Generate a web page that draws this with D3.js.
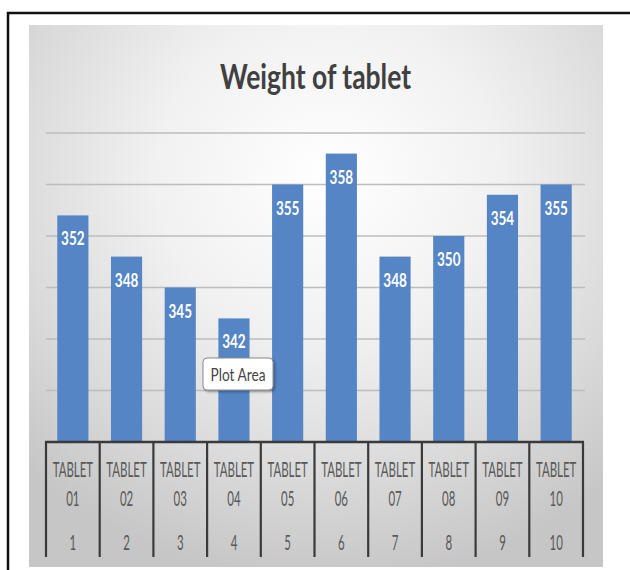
<!DOCTYPE html>
<html>
<head>
<meta charset="utf-8">
<script src="https://cdn.jsdelivr.net/npm/d3@7"></script>
<style>
  html, body { margin: 0; padding: 0; background: #ffffff; }
  svg { display: block; }
</style>
</head>
<body>
<svg id="chart" width="630" height="570"></svg>
<script>
// Data
const categories = ["TABLET 01", "TABLET 02", "TABLET 03", "TABLET 04", "TABLET 05",
                    "TABLET 06", "TABLET 07", "TABLET 08", "TABLET 09", "TABLET 10"];
const indexLabels = ["1", "2", "3", "4", "5", "6", "7", "8", "9", "10"];
const weights = [352, 348, 345, 342, 355, 358, 348, 350, 354, 355];
const gridValues = [335, 340, 345, 350, 355, 360];
const chartTitle = "Weight of tablet";

const svg = d3.select("#chart");
const font = "Lato, 'Open Sans', 'Liberation Sans', sans-serif";

// Defs: background gradient and tooltip shadow
const defs = svg.append("defs");
const bg = defs.append("radialGradient").attr("id", "bgGrad")
  .attr("cx", "52%").attr("cy", "28%").attr("r", "75%");
bg.append("stop").attr("offset", "0%").attr("stop-color", "#ffffff");
bg.append("stop").attr("offset", "40%").attr("stop-color", "#f1f1f1");
bg.append("stop").attr("offset", "75%").attr("stop-color", "#d9d9d9");
bg.append("stop").attr("offset", "100%").attr("stop-color", "#c6c6c6");
const shadow = defs.append("filter").attr("id", "tipShadow")
  .attr("x", "-20%").attr("y", "-20%").attr("width", "150%").attr("height", "160%");
shadow.append("feDropShadow").attr("dx", 1.5).attr("dy", 1.5)
  .attr("stdDeviation", 1.2).attr("flood-color", "#000").attr("flood-opacity", 0.35);

// Outer frame (left and top edges)
svg.append("path")
  .attr("d", "M8,570 V13 H630")
  .attr("fill", "none").attr("stroke", "#111").attr("stroke-width", 2.5);

// Chart area
svg.append("rect")
  .attr("x", 29).attr("y", 25).attr("width", 574).attr("height", 542)
  .attr("fill", "url(#bgGrad)");

// Scales
const x = d3.scaleBand().domain(categories).range([46, 583]).paddingInner(0.42).paddingOuter(0.21);
const y = d3.scaleLinear().domain([330, 360]).range([442, 133]);
const cellX = d3.scaleBand().domain(categories).range([46, 583]);

// Horizontal gridlines
svg.append("g").selectAll("line").data(gridValues).join("line")
  .attr("x1", 46).attr("x2", 585)
  .attr("y1", d => y(d)).attr("y2", d => y(d))
  .attr("stroke", "#bdbdbd").attr("stroke-width", 1.3);

// Tall, narrow lettering: text drawn at origin, then placed and stretched
function tallText(parent, cx, baseY, sx, sy) {
  return parent.append("g")
    .attr("transform", `translate(${cx},${baseY}) scale(${sx},${sy})`)
    .append("text")
    .attr("text-anchor", "middle");
}

// Title
svg.append("text")
  .attr("x", 315.5).attr("y", 89)
  .attr("text-anchor", "middle")
  .attr("font-family", font).attr("font-weight", "bold").attr("font-size", 34)
  .attr("fill", "#404040")
  .attr("textLength", 191).attr("lengthAdjust", "spacingAndGlyphs")
  .text(chartTitle);

// Bars
svg.append("g").selectAll("rect").data(weights).join("rect")
  .attr("x", (d, i) => x(categories[i]))
  .attr("y", d => y(d))
  .attr("width", x.bandwidth())
  .attr("height", d => y.range()[0] - y(d))
  .attr("fill", "#5585c5");

// Value labels inside the bars
const labelLayer = svg.append("g");
weights.forEach((v, i) => {
  tallText(labelLayer, x(categories[i]) + x.bandwidth() / 2, y(v) + 30, 1, 1.4)
    .attr("font-family", font).attr("font-weight", "bold").attr("font-size", 13.5)
    .attr("fill", "#ffffff")
    .text(v);
});

// Category table under the axis
const table = svg.append("g");
table.append("line")
  .attr("x1", 45).attr("x2", 584).attr("y1", 442).attr("y2", 442)
  .attr("stroke", "#3a3a3a").attr("stroke-width", 2.5);
const bounds = categories.map(c => cellX(c)).concat([cellX.range()[1]]);
table.selectAll("line.v").data(bounds).join("line").attr("class", "v")
  .attr("x1", d => d).attr("x2", d => d).attr("y1", 442).attr("y2", 557)
  .attr("stroke", "#3a3a3a").attr("stroke-width", 2.2);

function cellRow(rowY, getText) {
  categories.forEach((c, i) => {
    tallText(table, cellX(c) + cellX.bandwidth() / 2, rowY, 0.79, 1.4)
      .attr("font-family", font).attr("font-size", 14.5)
      .attr("fill", "#595959")
      .text(getText(c, i));
  });
}
cellRow(477, c => c.split(" ")[0]);
cellRow(506, c => c.split(" ")[1]);
cellRow(550, (c, i) => indexLabels[i]);

// "Plot Area" hover tip
const tipX = 203, tipY = 358;
const tip = svg.append("g");
tip.append("rect")
  .attr("x", tipX).attr("y", tipY).attr("width", 70).attr("height", 32)
  .attr("rx", 4)
  .attr("fill", "#ffffff").attr("stroke", "#8a8a8a").attr("stroke-width", 1)
  .attr("filter", "url(#tipShadow)");
tip.append("text")
  .attr("x", tipX + 35).attr("y", tipY + 23)
  .attr("text-anchor", "middle")
  .attr("font-family", font).attr("font-size", 18)
  .attr("fill", "#444444")
  .attr("textLength", 55).attr("lengthAdjust", "spacingAndGlyphs")
  .text("Plot Area");
</script>
</body>
</html>
